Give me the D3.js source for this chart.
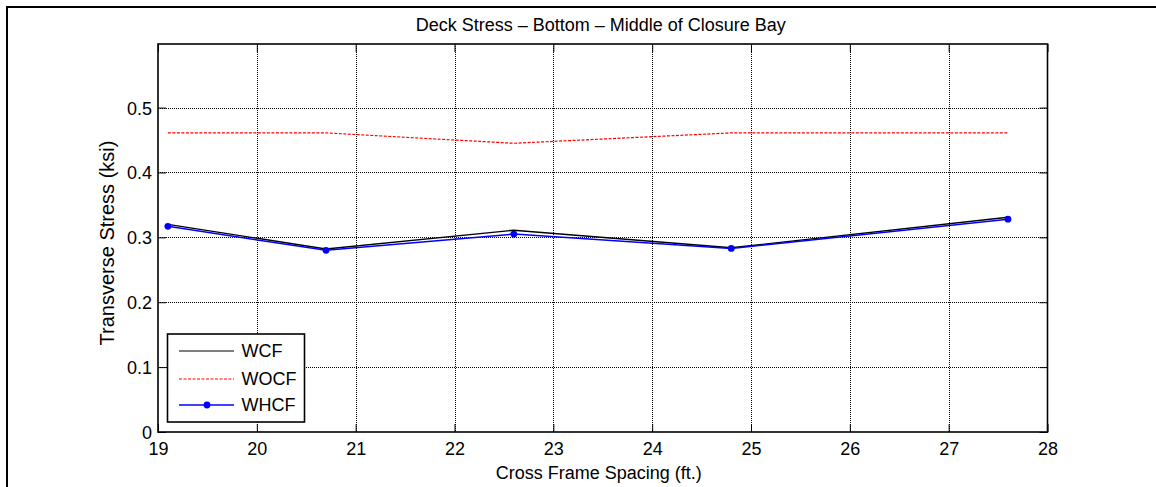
<!DOCTYPE html>
<html>
<head>
<meta charset="utf-8">
<script src="https://cdn.jsdelivr.net/npm/d3@7"></script>
<style>
  html, body { margin: 0; padding: 0; background: #fff; }
  svg { display: block; }
  text { font-family: Arial, "Liberation Sans", sans-serif; fill: #000; }
</style>
</head>
<body>
<svg id="chart" width="1156" height="487"></svg>
<script>
// ---- data ----
const spacing = [19.1, 20.7, 22.6, 24.8, 27.6];
const wcf  = [0.320, 0.282, 0.311, 0.284, 0.331];
const wocf = [0.461, 0.461, 0.445, 0.461, 0.461];
const whcf = [0.317, 0.280, 0.305, 0.283, 0.328];
const seriesNames = ["WCF", "WOCF", "WHCF"];
const xTicks = [19, 20, 21, 22, 23, 24, 25, 26, 27, 28];
const yTicks = [0, 0.1, 0.2, 0.3, 0.4, 0.5];
const yTickLabels = ["0", "0.1", "0.2", "0.3", "0.4", "0.5"];

const svg = d3.select("#chart");
const L = 158, R = 1047.5, T = 44, B = 432;
const FS = 18;
const x = d3.scaleLinear().domain([19, 28]).range([L, R]);
const y = d3.scaleLinear().domain([0, 0.598]).range([B, T]);

// outer frame
svg.append("rect").attr("x", 7).attr("y", 7).attr("width", 1160).attr("height", 490)
  .attr("fill", "none").attr("stroke", "#000").attr("stroke-width", 2);

// grid
const grid = svg.append("g").attr("stroke", "#000").attr("stroke-width", 1).attr("stroke-dasharray", "1,1");
grid.selectAll("line.v").data(xTicks.slice(1, -1)).join("line")
  .attr("x1", d => Math.round(x(d)) + 0.5).attr("x2", d => Math.round(x(d)) + 0.5)
  .attr("y1", T).attr("y2", B);
grid.selectAll("line.h").data(yTicks.slice(1)).join("line")
  .attr("y1", d => Math.round(y(d)) + 0.5).attr("y2", d => Math.round(y(d)) + 0.5)
  .attr("x1", L).attr("x2", R);

// axes
const fmt = d => yTickLabels[yTicks.indexOf(d)];
const xAxis = svg.append("g").attr("transform", `translate(0,${B})`)
  .call(d3.axisBottom(x).tickValues(xTicks).tickSizeInner(-8).tickSizeOuter(0).tickFormat(d3.format("d")));
const xAxisTop = svg.append("g").attr("transform", `translate(0,${T})`)
  .call(d3.axisTop(x).tickValues(xTicks).tickSizeInner(-8).tickSizeOuter(0).tickFormat(""));
const yAxis = svg.append("g").attr("transform", `translate(${L},0)`)
  .call(d3.axisLeft(y).tickValues(yTicks).tickSizeInner(-8).tickSizeOuter(0).tickFormat(fmt));
const yAxisR = svg.append("g").attr("transform", `translate(${R},0)`)
  .call(d3.axisRight(y).tickValues(yTicks).tickSizeInner(-8).tickSizeOuter(0).tickFormat(""));
[xAxis, xAxisTop, yAxis, yAxisR].forEach(g => {
  g.select(".domain").remove();
  g.selectAll(".tick line").attr("stroke", "#000").attr("stroke-width", 1);
  g.selectAll("text").attr("font-size", FS).attr("font-family", "Arial, 'Liberation Sans', sans-serif").attr("fill", "#000");
});
xAxis.selectAll("text").attr("dy", null).attr("y", 23);
yAxis.selectAll("text").attr("x", -6).attr("dy", "0.36em");

// box
svg.append("rect").attr("x", L).attr("y", T).attr("width", R - L).attr("height", B - T)
  .attr("fill", "none").attr("stroke", "#000").attr("stroke-width", 1.6);

// lines
const line = vals => d3.line().x((d, i) => x(spacing[i])).y(d => y(d))(vals);
svg.append("path").attr("d", line(wcf)).attr("fill", "none").attr("stroke", "#000").attr("stroke-width", 1.4);
svg.append("path").attr("d", line(wocf)).attr("fill", "none").attr("stroke", "#ff0000").attr("stroke-width", 1.2).attr("stroke-dasharray", "3,1.5");
svg.append("path").attr("d", line(whcf)).attr("fill", "none").attr("stroke", "#0000ff").attr("stroke-width", 1.5);
svg.selectAll("circle.pt").data(whcf).join("circle")
  .attr("cx", (d, i) => x(spacing[i])).attr("cy", d => y(d)).attr("r", 3.4).attr("fill", "#0000ff");

// title & labels
svg.append("text").attr("x", (L + R) / 2 - 2).attr("y", 31).attr("text-anchor", "middle").attr("font-size", FS)
  .text("Deck Stress \u2013 Bottom \u2013 Middle of Closure Bay");
svg.append("text").attr("x", (L + R) / 2 - 4).attr("y", 479).attr("text-anchor", "middle").attr("font-size", FS)
  .text("Cross Frame Spacing (ft.)");
svg.append("text").attr("transform", `translate(114,243) rotate(-90)`).attr("text-anchor", "middle").attr("font-size", 20)
  .text("Transverse Stress (ksi)");

// legend
const lg = svg.append("g");
lg.append("rect").attr("x", 167.5).attr("y", 334).attr("width", 137).attr("height", 88)
  .attr("fill", "#fff").attr("stroke", "#000").attr("stroke-width", 1.6);
const styles = [
  { stroke: "#000", dash: null, w: 1.2, marker: false },
  { stroke: "#ff0000", dash: "3,1.5", w: 1.2, marker: false },
  { stroke: "#0000ff", dash: null, w: 1.5, marker: true }
];
const ly = [351, 379, 405];
seriesNames.forEach((name, i) => {
  const s = styles[i];
  lg.append("line").attr("x1", 179).attr("x2", 234).attr("y1", ly[i]).attr("y2", ly[i])
    .attr("stroke", s.stroke).attr("stroke-width", s.w).attr("stroke-dasharray", s.dash);
  if (s.marker) lg.append("circle").attr("cx", 207).attr("cy", ly[i]).attr("r", 3.4).attr("fill", s.stroke);
  lg.append("text").attr("x", 241.5).attr("y", ly[i]).attr("dy", "0.36em").attr("font-size", FS).text(name);
});
</script>
</body>
</html>
